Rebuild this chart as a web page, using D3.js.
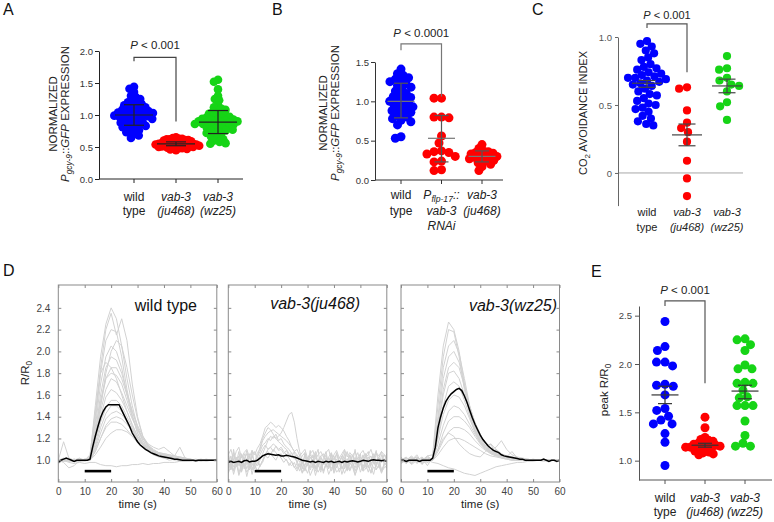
<!DOCTYPE html>
<html><head><meta charset="utf-8">
<script src="https://cdn.jsdelivr.net/npm/d3@7"></script>
<style>
body{margin:0;background:#fff;}
svg{display:block;}
</style></head><body>
<svg id="c" width="774" height="522"></svg>
<script>
// ---------------- DATA ----------------
// Panel A: normalized Pgcy-9::GFP expression
const aWT = [1.44,1.41,1.36,1.30,1.28,1.25,1.22,1.20,1.18,1.17,1.15,1.14,1.12,1.10,1.09,1.08,1.07,1.06,1.05,1.04,1.03,1.02,1.01,1.00,1.00,0.99,0.98,0.97,0.96,0.95,0.94,0.93,0.92,0.90,0.89,0.88,0.86,0.85,0.84,0.83,0.81,0.80,0.78,0.76,0.73,0.70,0.68,0.64];
const aJu = [0.65,0.64,0.63,0.63,0.62,0.62,0.61,0.61,0.60,0.60,0.59,0.59,0.58,0.58,0.57,0.57,0.56,0.56,0.56,0.55,0.55,0.55,0.54,0.54,0.54,0.53,0.53,0.53,0.52,0.52,0.52,0.51,0.51,0.50,0.50,0.50,0.49,0.49,0.48,0.48,0.47,0.46,0.45];
const aWz = [1.55,1.52,1.40,1.30,1.25,1.23,1.15,1.12,1.10,1.08,1.06,1.05,1.03,1.02,1.00,0.99,0.98,0.97,0.96,0.95,0.94,0.93,0.92,0.92,0.91,0.90,0.90,0.89,0.88,0.88,0.87,0.86,0.86,0.85,0.84,0.83,0.82,0.81,0.80,0.79,0.78,0.77,0.76,0.75,0.74,0.72,0.70,0.68,0.66,0.64,0.62,0.60,0.58,0.56,0.55];
const aMean = [1.00, 0.55, 0.89];
const aHi = [1.16, 0.58, 1.07];
const aLo = [0.84, 0.52, 0.71];
const aTicks = [0, 0.5, 1.0, 1.5, 2.0];

// Panel B
const bWT = [1.41,1.35,1.33,1.30,1.28,1.26,1.25,1.22,1.20,1.18,1.15,1.13,1.10,1.08,1.06,1.05,1.03,1.01,1.00,0.98,0.96,0.95,0.93,0.91,0.90,0.88,0.86,0.85,0.82,0.80,0.78,0.76,0.74,0.70,0.55,0.53];
const bRNAi = [1.04,1.04,0.80,0.80,0.79,0.56,0.47,0.37,0.36,0.35,0.33,0.30,0.24,0.23,0.13,0.12];
const bJu = [0.45,0.40,0.37,0.36,0.35,0.34,0.33,0.32,0.31,0.30,0.29,0.28,0.27,0.26,0.25,0.24,0.22,0.20,0.17,0.12];
const bMean = [1.00, 0.53, 0.30];
const bHi = [1.23, 0.82, 0.37];
const bLo = [0.79, 0.23, 0.23];
const bTicks = [0, 0.5, 1.0, 1.5];

// Panel C: CO2 avoidance index
const cWT = [0.97,0.95,0.93,0.90,0.88,0.85,0.83,0.80,0.78,0.77,0.76,0.74,0.73,0.72,0.71,0.70,0.70,0.69,0.68,0.67,0.66,0.65,0.64,0.62,0.60,0.58,0.57,0.55,0.53,0.51,0.50,0.48,0.47,0.45,0.42,0.40,0.38,0.36,0.35];
const cJu = [0.63,0.62,0.46,0.37,0.33,0.30,0.23,0.09,-0.04,-0.17];
const cWz = [0.86,0.77,0.76,0.70,0.68,0.65,0.64,0.60,0.52,0.49,0.39];
const cMean = [0.66, 0.28, 0.64];
const cHi = [0.68, 0.36, 0.69];
const cLo = [0.63, 0.20, 0.59];
const cTicks = [0, 0.5, 1.0];

// Panel E: peak R/R0
const eWT = [2.44,2.18,2.14,2.02,2.02,1.98,1.79,1.78,1.77,1.68,1.54,1.52,1.46,1.42,1.38,1.38,1.28,1.19,0.95];
const eJu = [1.45,1.34,1.24,1.22,1.21,1.20,1.19,1.18,1.17,1.16,1.16,1.15,1.15,1.14,1.14,1.13,1.12,1.11,1.10,1.09,1.08,1.07,1.06];
const eWz = [2.26,2.25,2.20,2.14,1.99,1.95,1.95,1.81,1.80,1.80,1.73,1.66,1.65,1.57,1.57,1.57,1.41,1.26,1.18,1.15,1.15];
const eMean = [1.68, 1.16, 1.72];
const eHi = [1.77, 1.18, 1.78];
const eLo = [1.59, 1.14, 1.64];
const eTicks = [1.0, 1.5, 2.0, 2.5];

// Panel D: calcium traces R/R0 (gray = individual animals, 2 s or 1 s sampling over 0-60 s)
const dTicksX = [0,10,20,30,40,50,60];
const dTicksY = [1.0,1.2,1.4,1.6,1.8,2.0,2.2,2.4];
const stim = [10, 20];
const dTitles = ["wild type", "vab-3(ju468)", "vab-3(wz25)"];

const wtTraces = [
 [1.0,1.01,0.99,1.0,1.02,1.0,1.03,1.5,1.95,2.25,2.4,2.3,2.05,1.75,1.5,1.3,1.18,1.1,1.06,1.04,1.02,1.03,1.01,1.0,1.0,1.01,0.99,1.0,1.01,1.0,1.0],
 [0.98,1.0,1.02,1.0,0.99,1.01,1.02,1.4,1.85,2.2,2.35,2.15,2.3,2.1,1.7,1.4,1.22,1.12,1.07,1.05,1.03,1.02,1.0,1.01,1.0,1.0,1.01,1.0,0.99,1.0,1.0],
 [1.0,0.99,1.0,1.01,1.0,1.0,1.02,1.35,1.8,2.1,2.2,2.18,1.95,1.65,1.42,1.25,1.15,1.09,1.05,1.03,1.02,1.0,1.01,1.0,0.99,1.0,1.0,1.01,1.0,1.0,1.0],
 [1.01,1.0,1.0,0.99,1.0,1.01,1.0,1.3,1.7,1.95,2.05,2.0,1.85,1.6,1.4,1.25,1.16,1.1,1.07,1.05,1.03,1.02,1.02,1.01,1.0,1.0,1.0,0.99,1.0,1.0,1.01],
 [1.0,1.0,1.01,1.0,1.0,0.99,1.01,1.25,1.6,1.85,1.95,1.92,1.8,1.62,1.45,1.3,1.2,1.13,1.08,1.06,1.04,1.03,1.02,1.0,1.01,1.0,1.0,1.0,1.0,1.0,1.0],
 [0.99,1.0,1.0,1.0,1.01,1.0,1.0,1.2,1.5,1.75,1.85,1.85,1.75,1.6,1.45,1.32,1.22,1.15,1.12,1.1,1.12,1.08,1.04,1.02,1.01,1.0,1.0,1.0,1.0,1.0,1.0],
 [1.0,1.02,1.0,0.99,1.0,1.0,1.01,1.2,1.45,1.65,1.75,1.72,1.62,1.5,1.38,1.28,1.2,1.14,1.1,1.07,1.05,1.04,1.02,1.01,1.0,1.0,1.0,1.0,1.0,1.0,1.0],
 [1.0,1.0,0.99,1.0,1.0,1.0,1.0,1.18,1.4,1.58,1.65,1.62,1.55,1.45,1.33,1.22,1.15,1.1,1.06,1.04,1.03,1.02,1.01,1.0,1.0,1.0,1.0,1.0,1.0,1.0,1.0],
 [1.0,1.0,1.0,1.01,1.0,1.0,1.0,1.15,1.35,1.48,1.55,1.55,1.5,1.4,1.3,1.2,1.14,1.1,1.07,1.05,1.04,1.03,1.02,1.01,1.0,1.0,1.0,1.0,1.0,1.0,1.0],
 [1.0,1.0,1.0,1.0,0.99,1.0,1.0,1.1,1.25,1.38,1.43,1.45,1.42,1.36,1.28,1.2,1.15,1.1,1.08,1.06,1.05,1.04,1.02,1.02,1.01,1.0,1.0,1.0,1.0,1.0,1.0],
 [1.0,1.0,1.0,1.0,1.0,1.0,1.0,1.08,1.2,1.32,1.38,1.4,1.38,1.33,1.27,1.2,1.15,1.12,1.09,1.07,1.06,1.05,1.04,1.03,1.02,1.01,1.0,1.0,1.0,1.0,1.0],
 [1.0,1.0,1.0,1.0,1.0,1.0,1.0,1.05,1.12,1.2,1.25,1.28,1.28,1.26,1.22,1.18,1.14,1.11,1.09,1.07,1.06,1.05,1.04,1.03,1.02,1.01,1.0,1.0,1.0,1.0,1.0],
 [0.97,1.0,0.98,0.97,0.98,0.97,0.98,0.98,0.96,0.95,0.95,0.94,0.95,0.95,0.96,0.96,0.97,0.96,0.97,0.97,0.98,0.98,0.98,0.99,0.99,0.99,1.0,1.0,1.0,1.0,1.0],
 [1.0,1.17,1.02,0.99,1.0,1.0,1.01,1.25,1.55,1.75,1.8,1.78,1.7,1.55,1.4,1.28,1.18,1.12,1.08,1.05,1.04,1.03,1.04,1.12,1.02,1.0,1.0,1.0,1.0,1.0,1.0],
 [1.0,0.98,0.93,0.95,1.0,1.0,1.0,1.2,1.5,1.8,2.0,2.1,2.05,1.85,1.6,1.38,1.22,1.14,1.09,1.06,1.04,1.03,1.02,1.01,1.0,1.0,1.0,1.0,1.0,1.0,1.0],
 [1.0,1.0,1.0,1.0,1.0,1.0,1.05,1.45,1.8,1.9,1.85,1.75,1.6,1.45,1.32,1.22,1.15,1.1,1.07,1.05,1.03,1.02,1.01,1.0,1.0,1.0,1.0,1.0,1.0,1.0,1.0],
 [1.0,1.0,1.01,1.0,0.99,1.0,1.0,1.12,1.3,1.43,1.5,1.5,1.45,1.37,1.28,1.2,1.14,1.1,1.07,1.05,1.04,1.03,1.02,1.01,1.0,1.0,1.0,1.0,1.0,1.0,1.0],
 [1.0,0.99,1.0,1.0,1.01,1.0,1.0,1.08,1.2,1.3,1.35,1.35,1.33,1.28,1.22,1.16,1.12,1.09,1.07,1.06,1.05,1.04,1.03,1.02,1.01,1.0,1.0,1.0,1.0,1.0,1.0]
];
const juTraces = [
 [1.02,0.95,1.05,0.97,1.08,0.94,1.01,1.06,0.93,1.04,0.98,1.07,1.1,1.18,1.22,1.25,1.27,1.28,1.26,1.24,1.22,1.2,1.18,1.15,1.12,1.08,1.05,1.02,0.97,1.04,0.95,1.03,0.98,1.06,0.94,1.02,0.99,1.05,0.93,1.01,1.04,0.96,1.03,0.97,1.06,0.95,1.0,1.04,0.96,1.02,0.98,1.05,0.94,1.03,0.99,1.06,0.97,1.02,1.08,0.96,1.03],
 [0.96,1.04,0.9,1.02,0.97,1.05,0.92,0.99,1.06,0.95,1.0,1.03,1.12,1.2,1.25,1.3,1.28,1.24,1.2,1.22,1.25,1.3,1.36,1.42,1.44,1.35,1.2,1.08,1.0,0.95,1.02,0.97,1.05,0.93,1.0,1.04,0.96,1.02,0.98,1.06,0.94,1.01,0.97,1.04,0.92,1.0,1.05,0.97,1.02,0.95,1.03,0.98,1.06,0.93,1.0,1.04,0.96,1.01,0.98,1.05,1.0],
 [0.88,0.95,0.9,0.98,0.86,0.93,0.97,0.89,0.94,0.91,0.96,0.9,0.95,0.98,1.05,1.1,1.12,1.15,1.13,1.1,1.12,1.08,1.05,1.02,0.98,0.94,0.9,0.95,0.88,0.93,0.97,0.86,0.92,0.95,0.89,0.94,0.9,0.97,0.87,0.93,0.96,0.89,0.92,0.95,0.88,0.94,0.9,0.96,0.87,0.93,0.97,0.9,0.92,0.95,0.88,0.94,0.91,0.96,0.89,0.93,0.95],
 [1.05,1.1,1.0,1.08,1.12,1.02,1.07,1.1,1.03,1.09,1.05,1.11,1.15,1.22,1.3,1.32,1.35,1.33,1.3,1.32,1.3,1.27,1.22,1.18,1.12,1.08,1.1,1.04,1.07,1.1,1.02,1.06,1.09,1.01,1.05,1.08,1.03,1.07,1.1,1.0,1.05,1.09,1.02,1.06,1.1,1.03,1.07,1.04,1.08,1.01,1.06,1.09,1.03,1.05,1.1,1.02,1.07,1.04,1.08,1.05,1.03],
 [0.93,0.99,0.87,0.96,1.01,0.9,0.97,0.85,0.95,1.0,0.92,0.98,0.94,1.0,1.06,1.08,1.05,1.1,1.07,1.04,1.06,1.02,1.0,0.97,0.95,0.98,0.92,0.97,0.89,0.96,1.0,0.91,0.97,0.86,0.95,0.99,0.9,0.96,0.93,0.99,0.88,0.95,1.0,0.92,0.97,0.9,0.98,0.94,0.86,0.95,0.99,0.91,0.96,0.89,0.97,1.0,0.92,0.95,0.88,0.96,0.98],
 [1.08,0.92,1.1,0.96,1.04,0.9,1.06,1.0,0.91,1.09,0.95,1.03,1.08,1.14,1.16,1.2,1.18,1.22,1.2,1.17,1.15,1.12,1.1,1.06,1.03,1.08,0.97,1.05,0.92,1.07,0.96,1.09,0.93,1.04,1.1,0.91,1.02,1.08,0.95,1.06,0.9,1.07,0.97,1.03,1.09,0.92,1.05,0.98,1.1,0.94,1.06,0.9,1.04,1.08,0.95,1.02,1.09,0.93,1.05,0.99,1.06],
 [0.9,1.0,0.94,1.03,0.88,0.97,1.02,0.92,0.99,0.87,0.96,1.01,0.95,1.0,1.04,1.02,1.06,1.03,1.0,1.05,1.02,0.98,1.01,0.95,0.99,0.93,0.97,0.9,0.98,0.94,0.88,0.96,1.01,0.92,0.97,0.89,0.99,0.94,1.02,0.9,0.97,0.93,0.99,0.87,0.95,1.01,0.91,0.98,0.93,1.0,0.89,0.96,0.92,0.99,0.94,0.87,0.97,1.0,0.91,0.95,0.93],
 [1.04,0.98,1.07,1.0,0.95,1.06,0.99,1.09,0.96,1.03,1.08,1.0,1.05,1.1,1.14,1.1,1.12,1.08,1.13,1.09,1.1,1.06,1.09,1.04,1.07,1.01,1.05,0.98,1.04,1.07,0.99,1.05,1.02,1.08,0.97,1.04,1.06,0.99,1.03,1.07,1.0,1.06,0.98,1.04,1.02,1.08,0.97,1.05,1.01,1.07,0.99,1.03,1.06,1.0,1.04,0.97,1.06,1.02,1.0,1.05,1.02],
 [0.97,0.91,1.01,0.94,0.99,0.89,1.0,0.96,1.03,0.92,0.98,0.95,1.0,1.06,1.12,1.18,1.22,1.2,1.24,1.18,1.2,1.15,1.12,1.1,1.06,1.02,0.99,0.94,1.0,0.9,0.98,0.93,1.01,0.9,0.96,1.0,0.88,0.97,0.92,1.01,0.93,0.98,0.89,0.97,1.02,0.91,0.96,0.99,0.9,0.97,1.01,0.92,0.98,0.95,0.89,0.99,0.94,1.02,0.9,0.97,0.95]
];
const wzTraces = [
 [1.0,1.03,0.97,1.02,0.96,1.04,1.05,1.6,2.05,2.27,2.2,2.0,1.7,1.45,1.28,1.18,1.12,1.08,1.06,1.05,1.04,1.03,1.02,1.01,1.0,1.0,1.0,1.0,1.0,1.0,1.0],
 [0.97,1.0,1.04,0.98,1.02,0.95,1.03,1.5,1.95,2.2,2.18,1.95,1.65,1.42,1.26,1.16,1.1,1.06,1.04,1.03,1.02,1.02,1.01,1.0,1.0,1.01,1.0,0.99,1.0,1.0,1.0],
 [1.02,0.98,1.0,1.05,0.97,1.01,1.02,1.4,1.85,2.05,2.1,1.98,1.75,1.5,1.32,1.2,1.13,1.15,1.1,1.06,1.04,1.03,1.02,1.01,1.0,1.0,1.0,1.0,1.0,1.0,1.0],
 [0.99,1.02,0.96,1.0,1.03,0.98,1.01,1.35,1.75,1.95,2.0,1.9,1.7,1.48,1.32,1.22,1.15,1.1,1.12,1.18,1.1,1.05,1.03,1.02,1.01,1.0,1.0,1.0,1.0,1.0,1.0],
 [1.01,0.97,1.02,0.99,1.0,1.04,1.0,1.3,1.65,1.85,1.9,1.85,1.68,1.5,1.35,1.24,1.16,1.1,1.07,1.05,1.04,1.03,1.02,1.01,1.01,1.0,1.0,1.0,1.0,1.0,1.0],
 [1.0,1.02,0.98,1.01,0.97,1.0,1.02,1.28,1.6,1.8,1.82,1.75,1.6,1.45,1.3,1.2,1.13,1.09,1.06,1.04,1.03,1.02,1.01,1.0,1.0,1.0,1.0,1.0,1.0,1.0,1.0],
 [0.98,1.0,1.03,0.97,1.01,0.99,1.01,1.22,1.5,1.68,1.72,1.68,1.55,1.4,1.28,1.18,1.12,1.08,1.1,1.05,1.03,1.08,1.02,1.01,1.0,1.0,1.0,1.0,1.0,1.0,1.0],
 [1.02,0.99,1.01,1.03,0.98,1.02,1.0,1.2,1.42,1.55,1.6,1.58,1.5,1.38,1.26,1.17,1.11,1.07,1.05,1.04,1.03,1.02,1.01,1.0,1.0,1.0,1.0,1.0,1.0,1.0,1.0],
 [1.0,0.98,1.02,1.0,0.99,1.03,1.0,1.15,1.32,1.45,1.5,1.48,1.42,1.33,1.24,1.16,1.11,1.07,1.05,1.04,1.03,1.02,1.01,1.0,1.0,1.0,1.0,1.0,1.0,1.0,1.0],
 [0.99,1.01,0.97,1.02,1.0,0.98,1.01,1.1,1.25,1.36,1.4,1.4,1.36,1.3,1.22,1.15,1.1,1.07,1.05,1.04,1.03,1.02,1.01,1.0,1.0,1.0,1.0,1.0,1.0,1.0,1.0],
 [1.0,1.02,0.99,1.01,0.97,1.0,1.0,1.08,1.18,1.26,1.3,1.3,1.28,1.24,1.18,1.13,1.09,1.06,1.04,1.03,1.02,1.01,1.0,1.0,1.0,1.0,1.0,1.0,1.0,1.0,1.0],
 [1.01,0.98,1.0,1.03,0.99,1.01,1.0,1.05,1.12,1.18,1.2,1.2,1.18,1.15,1.12,1.09,1.06,1.04,1.03,1.02,1.01,1.0,1.0,1.0,1.0,1.0,1.0,1.0,1.0,1.0,1.0],
 [0.98,1.0,0.97,1.01,0.99,1.0,0.98,0.97,0.95,0.93,0.92,0.9,0.88,0.87,0.86,0.88,0.9,0.92,0.94,0.95,0.96,0.97,0.98,0.98,0.99,0.99,1.0,1.0,1.0,1.0,1.0],
 [1.03,0.97,1.01,0.98,1.02,1.0,1.01,1.1,1.2,1.25,1.22,1.15,1.1,1.06,1.04,1.03,1.08,1.15,1.05,1.02,1.01,1.0,1.0,1.0,1.0,1.0,1.0,1.0,1.0,1.0,1.0]
];
// mean traces, 1 s sampling
const wtMean = [0.98,1.0,1.01,1.02,1.01,1.0,0.99,1.0,1.0,1.0, 1.0,1.0,1.01,1.12,1.22,1.31,1.39,1.45,1.49,1.51, 1.51,1.51,1.51,1.51,1.46,1.41,1.36,1.31,1.25,1.21, 1.17,1.14,1.12,1.1,1.085,1.07,1.06,1.05,1.04,1.035, 1.03,1.025,1.02,1.015,1.01,1.01,1.005,1.0,1.0,1.0, 1.0,1.0,0.995,1.0,1.0,1.0,1.0,1.0,1.0,1.0, 1.0];
const juMean = [0.98,0.99,0.98,0.985,0.99,0.98,0.995,1.0,0.985,0.99, 0.99,1.0,1.02,1.04,1.05,1.06,1.055,1.05,1.045,1.05, 1.04,1.04,1.045,1.04,1.035,1.03,1.02,1.01,1.0,0.995, 0.99,0.985,0.99,0.98,0.99,0.985,0.98,0.99,0.985,0.99, 0.98,0.985,0.99,0.98,0.99,0.985,0.99,0.995,0.99,0.985, 0.99,1.0,0.995,0.99,1.0,1.005,1.0,1.0,0.995,1.0, 0.99];
const wzMean = [1.0,1.0,0.99,1.0,1.0,1.0,1.0,0.99,1.0,1.0, 1.0,1.0,1.02,1.12,1.3,1.4,1.48,1.54,1.58,1.61, 1.63,1.65,1.66,1.64,1.59,1.53,1.46,1.39,1.33,1.28, 1.23,1.19,1.16,1.13,1.11,1.09,1.08,1.07,1.05,1.04, 1.035,1.03,1.025,1.02,1.015,1.01,1.01,1.0,1.0,1.0, 1.0,1.0,1.0,1.0,1.01,1.0,0.99,1.0,1.0,0.99, 1.0];

// category labels (segments: t=text, i=italic, sub=subscript)
const catWT = [[{t:"wild"}],[{t:"type"}]];
const catJu = [[{t:"vab-3",i:1}],[{t:"(ju468)",i:1}]];
const catWz = [[{t:"vab-3",i:1}],[{t:"(wz25)",i:1}]];
const catRNAi = [[{t:"P",i:1},{t:"flp-17",i:1,sub:1},{t:"::",i:1}],[{t:"vab-3",i:1}],[{t:"RNAi",i:1}]];

// ---------------- DRAWING ----------------
const FONT = '"Liberation Sans", Arial, Helvetica, sans-serif';
const svg = d3.select("#c").attr("font-family", FONT);
const COL = ["#0000ff", "#ff0000", "#16d416"];

function addRich(text, segs, size, subShift){
  let shifted = 0;
  const sh = subShift == null ? 0.3 : subShift;
  segs.forEach(s => {
    const ts = text.append("tspan").text(s.t);
    if (s.i) ts.attr("font-style", "italic");
    const want = s.sub ? size * sh : 0;
    if (want !== shifted) { ts.attr("dy", want - shifted); shifted = want; }
    if (s.sub) ts.attr("font-size", size * 0.72);
  });
}

function swarm(vals, y, d){
  const pts = vals.map(v => ({v, y: y(v)})).sort((a, b) => a.y - b.y);
  const placed = [];
  for (const p of pts) {
    const cands = [0];
    for (const q of placed) {
      const dy = Math.abs(q.y - p.y);
      if (dy < d) { const dx = Math.sqrt(d*d - dy*dy); cands.push(q.dx + dx, q.dx - dx); }
    }
    cands.sort((a, b) => Math.abs(a) - Math.abs(b) || a - b);
    for (const c of cands) {
      if (placed.every(q => (q.dx - c) ** 2 + (q.y - p.y) ** 2 >= d*d - 0.01)) { p.dx = c; break; }
    }
    placed.push(p);
  }
  return placed;
}

function scatterPanel(o){
  const g = svg.append("g");
  const y = d3.scaleLinear().domain(o.ydom).range(o.yr);
  const x = d3.scalePoint().domain(d3.range(o.groups.length)).range(o.xr);

  if (o.zeroLine) {
    g.append("line").attr("x1", o.axX).attr("x2", o.zeroEnd).attr("y1", y(0)).attr("y2", y(0))
      .attr("stroke", "#a8a8a8").attr("stroke-width", 1);
  }
  const ax = g.append("g").attr("transform", `translate(${o.axX},0)`)
    .call(d3.axisLeft(y).tickValues(o.ticks).tickFormat(o.fmt).tickSize(o.tick).tickSizeOuter(0).tickPadding(o.pad));
  ax.attr("font-family", FONT).attr("font-size", o.tickFont);
  ax.select(".domain").attr("stroke", o.axColor).attr("stroke-width", o.axW);
  ax.selectAll(".tick line").attr("stroke", o.axColor).attr("stroke-width", o.axW);
  ax.selectAll(".tick text").attr("fill", o.tickColor);

  if (o.xaxis) {
    const yb = y(o.ydom[0]);
    g.append("line").attr("x1", o.axX).attr("x2", o.xEnd).attr("y1", yb).attr("y2", yb)
      .attr("stroke", o.axColor).attr("stroke-width", o.axW);
    g.selectAll(".xt").data(o.groups).enter().append("line")
      .attr("x1", (d, i) => x(i)).attr("x2", (d, i) => x(i)).attr("y1", yb).attr("y2", yb + o.tick)
      .attr("stroke", o.axColor).attr("stroke-width", o.axW);
  }

  o.groups.forEach((vals, i) => {
    const pts = swarm(vals, y, o.dist[i]);
    g.append("g").selectAll("circle").data(pts).enter().append("circle")
      .attr("cx", p => x(i) + p.dx).attr("cy", p => p.y).attr("r", o.r).attr("fill", o.colors[i]);
  });

  // error bars
  o.groups.forEach((vals, i) => {
    const cx = x(i), eg = g.append("g").attr("stroke", o.errColor).attr("stroke-width", 1.2);
    eg.append("line").attr("x1", cx - o.meanW/2).attr("x2", cx + o.meanW/2).attr("y1", y(o.mean[i])).attr("y2", y(o.mean[i]))
      .attr("stroke", o.meanColor || o.errColor);
    eg.append("line").attr("x1", cx).attr("x2", cx).attr("y1", y(o.hi[i])).attr("y2", y(o.lo[i]));
    [o.hi[i], o.lo[i]].forEach(v => eg.append("line").attr("x1", cx - o.capW/2).attr("x2", cx + o.capW/2).attr("y1", y(v)).attr("y2", y(v)));
  });

  // bracket
  const b = o.bracket, x0 = x(0), x1 = x(1);
  g.append("path").attr("d", `M${x0},${y(b.left)}V${y(b.top)}H${x1}V${y(b.right)}`)
    .attr("fill", "none").attr("stroke", o.brColor).attr("stroke-width", 1.2);
  const pt = g.append("text").attr("x", (x0 + x1) / 2 + (o.pDx || 0)).attr("y", o.pY).attr("text-anchor", "middle")
    .attr("font-size", o.pFont).attr("fill", "#222");
  addRich(pt, [{t:"P", i:1}, {t:" < " + o.pText}], o.pFont);

  // category labels
  o.cats.forEach((lines, i) => {
    lines.forEach((segs, j) => {
      const t = g.append("text").attr("x", x(i)).attr("y", o.catY + j * o.catDy).attr("text-anchor", "middle")
        .attr("font-size", o.catFont).attr("fill", "#222");
      addRich(t, segs, o.catFont, 0.22);
    });
  });

  // y label
  o.ylab.forEach((segs, j) => {
    const t = g.append("text").attr("transform", `translate(${o.ylabX[j]},${o.ylabY}) rotate(-90)`)
      .attr("text-anchor", "middle").attr("font-size", o.ylabFont).attr("fill", "#222");
    addRich(t, segs, o.ylabFont);
  });
}

const fmt1 = d3.format(".1f");

// Panel A
scatterPanel({
  groups: [aWT, aJu, aWz], colors: COL, mean: aMean, hi: aHi, lo: aLo,
  ydom: [0, 2], yr: [179, 51], xr: [134, 218], axX: 99, xEnd: 243, xaxis: true,
  ticks: aTicks, fmt: fmt1, tick: 4, pad: 2, tickFont: 9.5, tickColor: "#333", axColor: "#222", axW: 1,
  r: 4.3, dist: [4.9, 3.2, 4.5], meanW: 38, capW: 20, errColor: "#222",
  bracket: {top: 1.9, left: 1.84, right: 0.9}, brColor: "#444", pY: 49, pFont: 11.5, pText: "0.001",
  cats: [catWT, catJu, catWz], catY: 201, catDy: 13.5, catFont: 12,
  ylab: [[{t:"NORMALIZED"}], [{t:"P",i:1},{t:"gcy-9",i:1,sub:1},{t:"::"},{t:"GFP",i:1},{t:" EXPRESSION"}]],
  ylabX: [57, 69], ylabY: 114, ylabFont: 11.5
});

// Panel B
scatterPanel({
  groups: [bWT, bRNAi, bJu], colors: [COL[0], COL[1], COL[1]], mean: bMean, hi: bHi, lo: bLo,
  ydom: [0, 1.5], yr: [180, 62], xr: [401, 482], axX: 375, xEnd: 503, xaxis: true,
  ticks: bTicks, fmt: fmt1, tick: 4, pad: 2, tickFont: 9.5, tickColor: "#333", axColor: "#333", axW: 1,
  r: 4.5, dist: [5.9, 7.5, 5.0], meanW: 27, capW: 14, errColor: "#555", meanColor: "#777",
  bracket: {top: 1.73, left: 1.65, right: 1.06}, brColor: "#777", pY: 37, pFont: 11.5, pText: "0.0001",
  cats: [catWT, catRNAi, catJu], catY: 199, catDy: 15.5, catFont: 12,
  ylab: [[{t:"NORMALIZED"}], [{t:"P",i:1},{t:"gcy-9",i:1,sub:1},{t:"::"},{t:"GFP",i:1},{t:" EXPRESSION"}]],
  ylabX: [327, 339], ylabY: 113, ylabFont: 11.5
});

// Panel C
scatterPanel({
  groups: [cWT, cJu, cWz], colors: COL, mean: cMean, hi: cHi, lo: cLo,
  ydom: [-0.24, 1.0], yr: [205.6, 37], xr: [647, 727], axX: 618, xaxis: false, zeroLine: true, zeroEnd: 743,
  ticks: cTicks, fmt: d => d === 0 ? "0" : fmt1(d), tick: 3, pad: 3, tickFont: 9.5, tickColor: "#555", axColor: "#666", axW: 1,
  r: 4.1, dist: [7.2, 8, 8], meanW: 30, capW: 17, errColor: "#444",
  bracket: {top: 1.096, left: 1.066, right: 0.74}, brColor: "#555", pY: 19, pFont: 11, pText: "0.001",
  cats: [catWT, catJu, catWz], catY: 216, catDy: 15, catFont: 11,
  ylab: [[{t:"CO"},{t:"2",sub:1},{t:" AVOIDANCE INDEX"}]],
  ylabX: [587], ylabY: 113, ylabFont: 11
});

// Panel E
scatterPanel({
  groups: [eWT, eJu, eWz], colors: COL, mean: eMean, hi: eHi, lo: eLo,
  ydom: [0.8, 2.6], yr: [480, 306], xr: [665, 745], axX: 639, xEnd: 772, xaxis: true,
  ticks: eTicks, fmt: fmt1, tick: 4, pad: 3, tickFont: 9.5, tickColor: "#444", axColor: "#555", axW: 1,
  r: 4.5, dist: [8.5, 4.6, 8.0], meanW: 27, capW: 14, errColor: "#333",
  bracket: {top: 2.652, left: 2.6, right: 1.80}, brColor: "#555", pY: 294, pFont: 11.5, pText: "0.001",
  cats: [catWT, catJu, catWz], catY: 502, catDy: 13.5, catFont: 12,
  ylab: [[{t:"peak R/R"},{t:"0",sub:1}]],
  ylabX: [608], ylabY: 390, ylabFont: 11.5
});

// Panel D
const dPanels = [
  {x0: 58.3, traces: wtTraces, mean: wtMean, title: dTitles[0], italic: false, tx: 197, ty: 311, ylabels: true},
  {x0: 228.3, traces: juTraces, mean: juMean, title: dTitles[1], italic: true, tx: 360, ty: 309, ylabels: false},
  {x0: 401, traces: wzTraces, mean: wzMean, title: dTitles[2], italic: true, tx: 557, ty: 311, ylabels: false}
];
const dW = 158.5, dTop = 285, dBot = 482;
dPanels.forEach((p, k) => {
  const g = svg.append("g");
  const x = d3.scaleLinear().domain([0, 60]).range([p.x0, p.x0 + dW]);
  const y = d3.scaleLinear().domain([0.8, 2.61]).range([dBot, dTop]);
  const cid = "clipD" + k;
  g.append("clipPath").attr("id", cid).append("rect").attr("x", p.x0).attr("y", dTop).attr("width", dW).attr("height", dBot - dTop);
  const pg = g.append("g").attr("clip-path", `url(#${cid})`);
  const line = d3.line().x(d => x(d.t)).y(d => y(d.v));
  p.traces.forEach(tr => {
    const n = tr.length;
    pg.append("path").datum(tr.map((v, i) => ({t: i * 60 / (n - 1), v})))
      .attr("d", line).attr("fill", "none").attr("stroke", "#d2d2d2").attr("stroke-width", 1);
  });
  pg.append("path").datum(p.mean.map((v, i) => ({t: i * 60 / (p.mean.length - 1), v})))
    .attr("d", line).attr("fill", "none").attr("stroke", "#000").attr("stroke-width", 1.5);
  // stimulus bar
  g.append("line").attr("x1", x(stim[0])).attr("x2", x(stim[1])).attr("y1", y(0.9)).attr("y2", y(0.9))
    .attr("stroke", "#000").attr("stroke-width", 2.6);
  // frame
  g.append("rect").attr("x", p.x0).attr("y", dTop).attr("width", dW).attr("height", dBot - dTop)
    .attr("fill", "none").attr("stroke", "#8a8a8a").attr("stroke-width", 1);
  const styleAx = (a) => { a.attr("font-family", FONT).attr("font-size", 10); a.select(".domain").remove();
    a.selectAll(".tick line").attr("stroke", "#8a8a8a"); a.selectAll(".tick text").attr("fill", "#444"); };
  g.append("g").attr("transform", `translate(0,${dBot})`).call(d3.axisBottom(x).tickValues(dTicksX).tickSize(-3).tickPadding(6)).call(styleAx);
  g.append("g").attr("transform", `translate(0,${dTop})`).call(d3.axisTop(x).tickValues(dTicksX).tickSize(-3).tickFormat("")).call(styleAx);
  g.append("g").attr("transform", `translate(${p.x0},0)`).call(d3.axisLeft(y).tickValues(dTicksY).tickSize(-3).tickPadding(8)
    .tickFormat(p.ylabels ? fmt1 : "")).call(styleAx);
  g.append("g").attr("transform", `translate(${p.x0 + dW},0)`).call(d3.axisRight(y).tickValues(dTicksY).tickSize(-3).tickFormat("")).call(styleAx);
  g.append("text").attr("x", p.x0 + dW / 2).attr("y", 508).attr("text-anchor", "middle").attr("font-size", 11.5)
    .attr("fill", "#222").text("time (s)");
  g.append("text").attr("x", p.tx).attr("y", p.ty).attr("text-anchor", "end").attr("font-size", 16)
    .attr("font-style", p.italic ? "italic" : "normal").attr("fill", "#111").text(p.title);
});
{
  const t = svg.append("text").attr("transform", "translate(29,373) rotate(-90)").attr("text-anchor", "middle")
    .attr("font-size", 11.5).attr("fill", "#222");
  addRich(t, [{t:"R/R"},{t:"0",sub:1}], 11.5);
}

// panel letters
const letters = [["A", 3, 15], ["B", 272, 15], ["C", 532, 15], ["D", 3, 276], ["E", 591, 277]];
svg.selectAll(".lett").data(letters).enter().append("text")
  .attr("x", d => d[1]).attr("y", d => d[2]).attr("font-size", 16).attr("fill", "#111").text(d => d[0]);
</script>
</body></html>
